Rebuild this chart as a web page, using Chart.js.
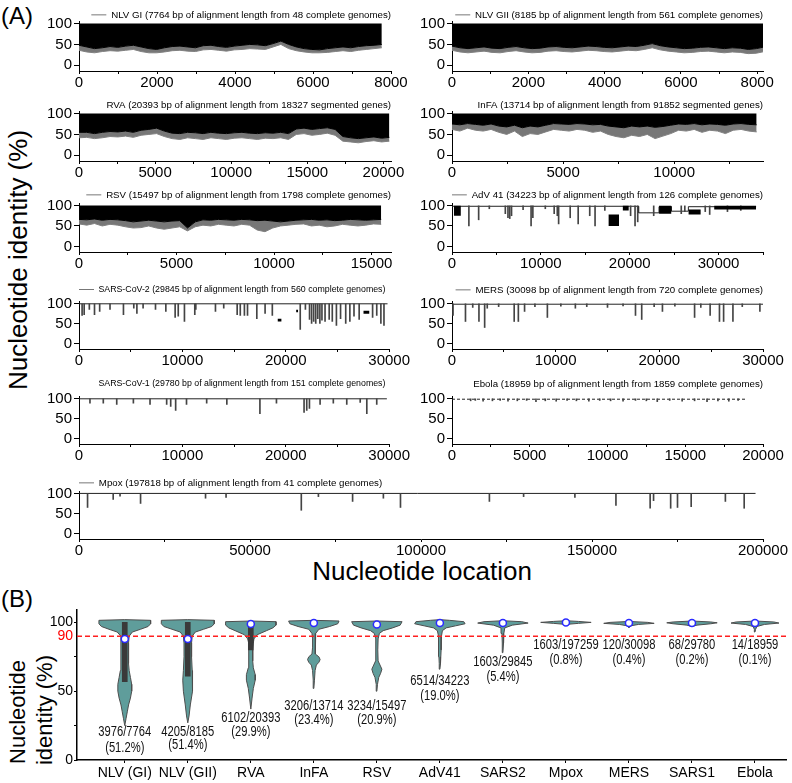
<!DOCTYPE html>
<html>
<head>
<meta charset="utf-8">
<script src="https://cdn.jsdelivr.net/npm/chart.js@4.4.1/dist/chart.umd.min.js"></script>
<style>
  body { margin: 0; width: 792px; height: 783px; position: relative; overflow: hidden; background: #fff;
         font-family: "Liberation Sans", Arial, sans-serif; }
  canvas { position: absolute; }
  .t { position: absolute; white-space: nowrap; color: #000; line-height: 1; }
  .rot { transform: translate(-50%, -50%) rotate(-90deg); }
</style>
</head>
<body>
<div class="t" style="left:1px;top:4px;font-size:24px">(A)</div>
<div class="t rot" style="left:18px;top:260px;font-size:26px">Nucleotide identity (%)</div>
<div class="t" style="left:422px;top:571px;font-size:26px;transform:translate(-50%,-50%)">Nucleotide location</div>
<div class="t" style="left:1px;top:587px;font-size:24px">(B)</div>
<div class="t rot" style="left:18px;top:712px;font-size:22px">Nucleotide</div>
<div class="t rot" style="left:45px;top:710px;font-size:22px">identity (%)</div>

<script>
// ---------- panel A: dense genomes, lower edge of the black mass and deepest tips, evenly along the genome ----------
const nlvGiLo  = [48,44,40,42,45,43,46,48,44,40,38,42,45,46,44,42,47,48,45,43,46,48,50,49,47,52,58,50,44,40,38,37,40,42,44,42,45,47,48,50];
const nlvGiTip = [36,32,30,33,35,34,36,38,33,30,30,32,35,36,34,33,37,38,36,34,37,38,40,39,38,44,50,40,35,32,30,30,31,33,35,33,36,38,40,42];
const nlvGiiLo  = [46,42,40,42,44,41,40,43,45,42,40,41,44,45,43,42,44,46,45,43,42,44,46,45,48,52,47,44,42,40,41,43,44,42,40,42,41,38,40,44];
const nlvGiiTip = [36,32,30,32,34,31,30,33,35,32,30,31,34,35,33,32,34,36,35,33,32,34,36,35,38,42,37,34,32,30,31,33,34,32,30,32,31,28,29,33];
const rvaLo  = [55,55,52,55,57,56,58,55,60,62,65,58,53,52,55,54,52,55,53,52,54,55,53,52,54,53,55,52,63,65,62,64,66,62,45,42,40,42,44,41,43];
const rvaTip = [42,43,40,42,45,44,46,43,48,50,52,45,40,38,42,40,38,42,40,38,41,42,40,38,41,40,42,38,50,52,48,50,53,48,34,32,30,33,35,32,34];
const infaLo  = [75,73,76,74,72,75,70,68,72,66,70,68,72,76,75,74,76,75,73,74,70,68,66,70,68,70,67,69,72,75,74,76,73,75,74,72,75,76,74,73];
const infaTip = [62,58,65,60,58,62,55,50,58,45,52,50,56,62,60,58,62,60,55,58,50,45,42,48,45,50,40,46,52,60,58,62,55,60,58,52,60,62,58,56];
const rsvLo  = [66,65,67,64,66,65,63,60,62,64,62,60,62,63,45,60,65,64,66,65,64,66,65,63,64,62,60,62,64,65,66,64,65,63,64,66,65,64,65,66];
const rsvTip = [55,52,56,50,54,52,48,45,46,50,45,42,45,48,38,48,52,50,54,52,50,54,52,40,36,45,50,52,54,55,50,52,48,50,54,52,50,52,55,54];

// ---------- panel A: conserved genomes, baseline + single dips + dark blocks [x0, x1, lo, hi] ----------
const advBase = [[0,98],[21000,98],[21000,82],[23300,82],[23300,97],[24700,97],[24700,86],[26600,86],[26600,97],[34223,97]];
const advDipX  = [1900,3000,4200,6000,6300,6500,6700,8000,8900,9100,10500,11500,11850,12000,13300,14200,15500,16100,17200,20100,20600,20900,22700,25800,26200,28500,29000,31000,32500];
const advDipLo = [50,65,92,80,70,68,75,90,50,70,92,80,75,55,70,55,75,50,88,75,50,60,75,80,85,85,78,85,88];
const advBlocks = [[200,1000,75,99],[17600,18800,50,78],[19200,19900,88,99],[23300,24700,80,99],[26600,28000,78,90],[29500,34223,90,99]];

const sars2Base = [[0,99],[29845,99]];
const sars2DipX  = [300,500,1000,1500,2000,3000,4300,5300,5600,6200,7400,8400,9300,9600,10200,11200,11300,13200,14000,15300,15600,16000,16300,17200,18000,18700,21400,21900,22300,22500,22700,22900,23100,23300,23500,23800,24200,24500,24900,25300,25800,26200,26600,27100,28400,28800,29200,29500];
const sars2DipLo = [70,72,85,72,80,85,72,88,75,88,85,80,65,68,55,72,85,80,88,72,70,70,70,62,75,70,35,85,60,50,55,50,62,50,58,55,60,55,45,62,50,55,68,60,65,70,50,45];
const sars2Blocks = [[19200,19600,55,62],[21000,21200,78,84],[27500,28100,74,82]];

const mersBase = [[0,98],[30098,98]];
const mersDipX  = [100,1300,2000,2600,3150,3400,4500,6000,6400,7000,8000,9200,10500,11900,13000,15000,16500,17700,18300,19500,20300,21500,23400,24000,24900,25800,26200,27100,28000,29700];
const mersDipLo = [70,55,90,55,40,88,92,55,55,80,92,65,93,88,92,90,94,70,60,92,80,93,65,90,70,55,55,55,92,80];

const sars1Base = [[0,99],[29780,99]];
const sars1DipX  = [1060,2350,3650,5260,6870,8480,8870,9350,10400,12350,14300,17500,19100,21770,22030,22290,23320,24600,25900,27200,27840,28800];
const sars1DipLo = [88,88,85,88,85,85,80,70,85,88,85,62,88,65,70,75,85,88,85,90,62,85];

const ebolaBase = [[0,98],[18959,98]];
const ebolaDipX  = [1200,1500,2000,2600,3100,3600,4200,4800,5400,6000,6700,7400,8000,8800,9500,10200,11000,11800,12500,13200,14000,14800,15600,16400,17100,17800,18400];
const ebolaDipLo = [94,95,93,94,95,93,94,95,92,94,93,95,94,93,95,94,93,95,94,92,95,93,94,92,94,93,95];

const mpoxBase = [[0,100],[197818,100]];
const mpoxDipX  = [2500,10000,12000,18000,37000,43000,65000,70000,80000,89000,94000,120000,130000,145000,157000,167000,168000,173000,175000,179000,189000,194500];
const mpoxDipLo = [65,85,93,75,88,90,58,92,80,88,65,80,92,90,70,63,82,63,65,67,80,63];

// x tick labels
const ticks8k   = [0,2000,4000,6000,8000];
const ticks20k  = [0,5000,10000,15000,20000];
const ticks30k  = [0,10000,20000,30000];
const ticks200k = [0,50000,100000,150000,200000];

// ---------- panel B ----------
const cats   = ['NLV (GI)','NLV (GII)','RVA','InFA','RSV','AdV41','SARS2','Mpox','MERS','SARS1','Ebola'];
const counts = ['3976/7764','4205/8185','6102/20393','3206/13714','3234/15497','6514/34223','1603/29845','1603/197259','120/30098','68/29780','14/18959'];
const pcts   = ['(51.2%)','(51.4%)','(29.9%)','(23.4%)','(20.9%)','(19.0%)','(5.4%)','(0.8%)','(0.4%)','(0.2%)','(0.1%)'];
const countY = [20.6,20.6,30.4,39.3,39.3,57,70.9,83.8,83.8,83.8,83.8];
const pctY   = [8.5,10.9,19.9,29.1,29.1,46.6,60.2,72.8,72.8,72.8,72.8];
const medians = [88,88,98.8,99.5,98.5,99.5,99.5,100,99.5,99.5,99.5];
const boxLo = [57,61,80,98,97,99,99.2,99.7,99.2,99.3,99.2];
const boxHi = [100,100,100,100,100,100,100,100,100,100,100];
// violin outline: [identity, half width in category units]
const vNlvGi  = [[25,0],[30,0.02],[35,0.04],[40,0.06],[45,0.09],[50,0.11],[55,0.11],[60,0.09],[65,0.07],[70,0.06],[75,0.06],[80,0.06],[85,0.06],[90,0.07],[93,0.12],[95,0.25],[97,0.37],[99,0.41],[101.5,0.41],[102,0]];
const vNlvGii = [[27,0],[32,0.02],[40,0.04],[50,0.07],[58,0.08],[65,0.07],[75,0.06],[85,0.06],[90,0.07],[93,0.12],[95,0.25],[97,0.38],[99,0.42],[101.5,0.42],[102,0]];
const vRva    = [[37,0],[45,0.02],[52,0.04],[58,0.07],[62,0.07],[67,0.04],[72,0.03],[80,0.03],[85,0.04],[88,0.05],[91,0.1],[94,0.25],[96,0.35],[98,0.4],[100.5,0.4],[101,0]];
const vInfa   = [[52,0],[58,0.01],[65,0.02],[69,0.04],[71,0.08],[73,0.1],[75,0.08],[77,0.03],[82,0.02],[88,0.02],[92,0.03],[95,0.08],[97,0.25],[99,0.38],[101,0.4],[101.5,0]];
const vRsv    = [[50,0],[55,0.01],[60,0.03],[63,0.06],[66,0.08],[69,0.05],[72,0.02],[80,0.015],[88,0.02],[92,0.04],[94,0.1],[96,0.25],[98,0.37],[100.5,0.4],[101,0]];
const vAdv    = [[66,0],[70,0.01],[75,0.015],[80,0.02],[85,0.02],[90,0.025],[94,0.04],[96,0.1],[97.5,0.25],[99,0.4],[100.5,0.38],[101.5,0.15],[102,0]];
const vSars2  = [[78,0],[85,0.01],[92,0.015],[96,0.03],[98,0.15],[99.5,0.4],[100.5,0.3],[101.2,0]];
const vMpox   = [[98.5,0],[99.3,0.2],[100,0.4],[100.7,0.2],[101.2,0]];
const vMers   = [[96,0],[97.5,0.03],[98.5,0.15],[99.3,0.4],[100,0.3],[100.7,0]];
const vSars1  = [[97,0],[98,0.08],[99,0.3],[99.7,0.4],[100.3,0.3],[101,0]];
const vEbola  = [[93,0],[95,0.01],[97,0.03],[98.5,0.15],[99.5,0.38],[100.3,0.3],[101,0]];
const violins = [vNlvGi,vNlvGii,vRva,vInfa,vRsv,vAdv,vSars2,vMpox,vMers,vSars1,vEbola];

const AF = '"Liberation Sans", Arial, sans-serif';

function addCanvas(l, t, w, h) {
    const c = document.createElement('canvas');
    c.width = w; c.height = h;
    c.style.left = l + 'px'; c.style.top = t + 'px';
    document.body.appendChild(c);
    return c;
}

// black mass from the lower edge up to 100, grey fringe of spikes below it
function denseSets(len, lo, tip) {
    const step = len / (lo.length - 1);
    return [
        {type: 'line', data: lo.map((v, i) => ({x: i * step, y: v})), borderColor: '#000', borderWidth: 1,
            backgroundColor: '#000', fill: {value: 100}, pointRadius: 0, order: 1},
        {type: 'line', data: tip.map((v, i) => ({x: i * step, y: v})), borderColor: '#808080', borderWidth: 1,
            backgroundColor: '#777', fill: '-1', pointRadius: 0, order: 2},
    ];
}

function sparseSets(base, dipX, dipLo, blocks = [], dash = []) {
    const sets = [
        {type: 'line', data: base.map(([x, y]) => ({x, y})), borderColor: '#222', borderWidth: 1,
            borderDash: dash, pointRadius: 0, order: 3},
        {type: 'bar', data: dipX.map((x, i) => ({x, y: [dipLo[i], 99]})), backgroundColor: '#444',
            barThickness: 1, grouped: false, order: 2},
    ];
    for (const [x0, x1, lo, hi] of blocks) {
        sets.push({type: 'line', data: [{x: x0, y: hi}, {x: x1, y: hi}], borderColor: '#000', borderWidth: 0,
            backgroundColor: '#000', fill: {value: lo}, pointRadius: 0, order: 1});
    }
    return sets;
}

function panelA(p) {
    const yAxisW = 39, xAxisH = 22;
    const ct = Math.round(p.top), cb = Math.round(p.bottom);
    const top = Math.round(p.legendY - 5);
    const left = p.left - yAxisW;
    const c = addCanvas(left, top, p.right + p.padR - left, cb + xAxisH - top);
    new Chart(c, {
        type: 'bar',
        data: {datasets: p.sets},
        options: {
            responsive: false,
            animation: false,
            events: [],
            layout: {padding: {left: 0, right: p.padR, top: 0, bottom: 0}},
            plugins: {
                tooltip: {enabled: false},
                legend: {
                    position: 'top', align: p.align || 'end', fullSize: false, maxHeight: ct - top,
                    labels: {
                        boxWidth: 15, boxHeight: 1, padding: 0, color: '#222', font: {family: AF, size: p.fontSize || 9.7},
                        generateLabels: () => [{text: p.label, fillStyle: p.sample ? '#777' : 'rgba(0,0,0,0)',
                            strokeStyle: 'rgba(0,0,0,0)', lineWidth: 0, hidden: false}]
                    }
                }
            },
            scales: {
                x: {
                    type: 'linear', min: 0, max: p.max, offset: false,
                    afterBuildTicks: s => {
                        const t = [];
                        for (let v = 0; v <= p.max; v += p.minor) t.push({value: v});
                        s.ticks = t;
                    },
                    ticks: {callback: v => p.ticks.includes(v) ? String(v) : '', color: '#000',
                        font: {family: AF, size: 15, lineHeight: 1}, padding: 1, maxRotation: 0, autoSkip: false},
                    grid: {drawOnChartArea: false, color: '#000', tickLength: 3, offset: false},
                    border: {color: '#000'},
                    afterFit: s => { s.height = xAxisH; }
                },
                y: {
                    min: -13.5, max: 106,
                    afterBuildTicks: s => { s.ticks = [0, 25, 50, 75, 100].map(v => ({value: v})); },
                    ticks: {callback: v => v % 50 === 0 ? String(v) : '', color: '#000',
                        font: {family: AF, size: 15, lineHeight: 1}, padding: 2},
                    grid: {drawOnChartArea: false, color: '#000', tickLength: 5},
                    border: {color: '#000'},
                    afterFit: s => { s.width = yAxisW; }
                }
            }
        }
    });
}

const L = {left: 79, right: 391, padR: 20};
const R = {left: 452, right: 763, padR: 29};
const rows = [
    {top: 20.8, bottom: 70.6, legendY: 15},
    {top: 110.8, bottom: 160.6, legendY: 105},
    {top: 203, bottom: 252.4, legendY: 195},
    {top: 300.5, bottom: 348.5, legendY: 290},
    {top: 396, bottom: 444, legendY: 384},
];

panelA({...L, ...rows[0], max: 8000, minor: 1000, ticks: ticks8k, sample: true,
    label: 'NLV GI (7764 bp of alignment length from 48 complete genomes)', sets: denseSets(7764, nlvGiLo, nlvGiTip)});
panelA({...R, ...rows[0], max: 8150, minor: 1000, ticks: ticks8k, sample: true,
    label: 'NLV GII (8185 bp of alignment length from 561 complete genomes)', sets: denseSets(8185, nlvGiiLo, nlvGiiTip)});
panelA({...L, ...rows[1], max: 20500, minor: 2500, ticks: ticks20k,
    label: 'RVA (20393 bp of alignment length from 18327 segmented genes)', sets: denseSets(20393, rvaLo, rvaTip)});
panelA({...R, ...rows[1], max: 14000, minor: 2500, ticks: ticks20k,
    label: 'InFA (13714 bp of alignment length from 91852 segmented genes)', sets: denseSets(13714, infaLo, infaTip)});
panelA({...L, ...rows[2], max: 16000, minor: 2500, ticks: ticks20k, sample: true,
    label: 'RSV (15497 bp of alignment length from 1798 complete genomes)', sets: denseSets(15497, rsvLo, rsvTip)});
panelA({...R, ...rows[2], max: 35000, minor: 5000, ticks: ticks30k, sample: true,
    label: 'AdV 41 (34223 bp of alignment length from 126 complete genomes)', sets: sparseSets(advBase, advDipX, advDipLo, advBlocks)});
panelA({...L, ...rows[3], max: 30000, minor: 5000, ticks: ticks30k, sample: true, align: 'start', fontSize: 8.8,
    label: 'SARS-CoV-2 (29845 bp of alignment length from 560 complete genomes)', sets: sparseSets(sars2Base, sars2DipX, sars2DipLo, sars2Blocks)});
panelA({...R, ...rows[3], max: 30000, minor: 5000, ticks: ticks30k, sample: true,
    label: 'MERS (30098 bp of alignment length from 720 complete genomes)', sets: sparseSets(mersBase, mersDipX, mersDipLo)});
panelA({...L, ...rows[4], max: 30000, minor: 5000, ticks: ticks30k, align: 'start', fontSize: 8.8,
    label: 'SARS-CoV-1 (29780 bp of alignment length from 151 complete genomes)', sets: sparseSets(sars1Base, sars1DipX, sars1DipLo)});
panelA({...R, ...rows[4], max: 20000, minor: 2500, ticks: ticks20k,
    label: 'Ebola (18959 bp of alignment length from 1859 complete genomes)', sets: sparseSets(ebolaBase, ebolaDipX, ebolaDipLo, [], [3, 2])});
panelA({left: 79, right: 763, padR: 29, top: 490.9, bottom: 538.7, legendY: 483.3, max: 200000, minor: 25000,
    ticks: ticks200k, sample: true, align: 'start',
    label: 'Mpox (197818 bp of alignment length from 41 complete genomes)', sets: sparseSets(mpoxBase, mpoxDipX, mpoxDipLo)});

// ---------- panel B chart ----------
const xMin = 0.242, xMax = 11.5;
const violinSets = violins.map((prof, i) => ({
    type: 'line',
    data: [...prof.map(([y, w]) => ({x: i + 1 - w, y})), ...prof.slice().reverse().map(([y, w]) => ({x: i + 1 + w, y}))],
    borderColor: '#4d4d4d', borderWidth: 1, backgroundColor: '#5f9d9b', fill: 'shape', pointRadius: 0, order: 5
}));

// condensed count / percentage labels under each violin
const countLabels = {
    id: 'countLabels',
    afterDatasetsDraw(chart) {
        const {ctx, scales: {x, y}} = chart;
        ctx.save();
        ctx.font = '14px ' + AF;
        ctx.fillStyle = '#111';
        ctx.textAlign = 'center';
        ctx.textBaseline = 'middle';
        const put = (text, px, py) => {
            ctx.save();
            ctx.translate(px, py);
            ctx.scale(0.8, 1);
            ctx.fillText(text, 0, 0);
            ctx.restore();
        };
        cats.forEach((c, i) => {
            const px = x.getPixelForValue(i + 1);
            put(counts[i], px, y.getPixelForValue(countY[i]));
            put(pcts[i], px, y.getPixelForValue(pctY[i]));
        });
        ctx.restore();
    }
};

const cB = addCanvas(40, 598, 752, 184);
new Chart(cB, {
    type: 'bar',
    data: {
        datasets: [
            ...violinSets,
            {type: 'bar', data: cats.map((c, i) => ({x: i + 1, y: [boxLo[i], boxHi[i]]})), backgroundColor: '#3a3a3a',
                barThickness: 5, grouped: false, order: 4},
            {type: 'line', data: [{x: xMin, y: 90}, {x: xMax, y: 90}], borderColor: '#ff2020', borderWidth: 1.5,
                borderDash: [5, 3], pointRadius: 0, order: 2},
            {type: 'line', data: medians.map((m, i) => ({x: i + 1, y: m})), showLine: false, pointRadius: 3.5,
                pointBackgroundColor: '#fff', pointBorderColor: '#2a2aff', pointBorderWidth: 1.5, order: 1},
        ]
    },
    options: {
        responsive: false,
        animation: false,
        events: [],
        layout: {padding: {left: 0, right: 2, top: 12, bottom: 0}},
        plugins: {legend: {display: false}, tooltip: {enabled: false}},
        scales: {
            x: {
                type: 'linear', min: xMin, max: xMax, offset: false,
                afterBuildTicks: s => { s.ticks = cats.map((c, i) => ({value: i + 1})); },
                ticks: {callback: v => cats[v - 1], color: '#000', font: {family: AF, size: 14, lineHeight: 1},
                    padding: 3, maxRotation: 0, autoSkip: false},
                grid: {drawOnChartArea: false, color: '#000', tickLength: 3, offset: false},
                border: {color: '#000', width: 1.5},
                afterFit: s => { s.height = 22; }
            },
            y: {
                min: 0, max: 109,
                afterBuildTicks: s => { s.ticks = [0, 25, 50, 75, 90, 100].map(v => ({value: v})); },
                ticks: {callback: v => (v === 25 || v === 75) ? '' : String(v),
                    color: c => c.tick && c.tick.value === 90 ? '#ff0000' : '#000',
                    font: {family: AF, size: 14, lineHeight: 1}, padding: 1},
                grid: {drawOnChartArea: false, tickLength: 3,
                    color: c => c.tick && c.tick.value === 90 ? 'rgba(0,0,0,0)' : '#000'},
                border: {color: '#000', width: 1.5},
                afterFit: s => { s.width = 37; }
            }
        }
    },
    plugins: [countLabels]
});
</script>
</body>
</html>
